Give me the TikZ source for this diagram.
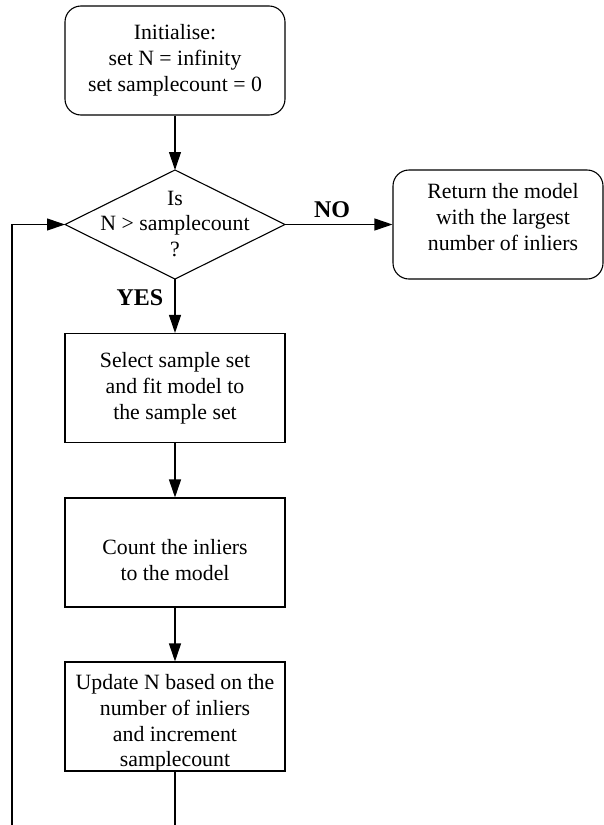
\documentclass[tikz,border=0pt]{standalone}
\usepackage{fontspec}
\setmainfont{Liberation Serif}
\usetikzlibrary{arrows.meta}
\begin{document}
\begin{tikzpicture}[x=1pt,y=-1pt, line width=1.1pt,
  box/.style={draw, minimum width=220pt, minimum height=109pt, inner sep=0pt},
  rbox/.style={box, rounded corners=16pt},
  txt/.style={align=center, font=\fontsize{21.8}{25.8}\selectfont, inner sep=0pt},
  lbl/.style={font=\fontsize{24}{28}\selectfont\bfseries, inner sep=0pt},
  arr/.style={-{Triangle[length=18pt,width=12pt]}},
]
\useasboundingbox (0,0) rectangle (604,825);
% boxes
\node[rbox] (init) at (175,60.5) {};
\node[txt] (initt) at (175,60) {Initialise:\\set N = infinity\\set samplecount = 0};
\coordinate (dT) at (175,170);
\coordinate (dB) at (175,279);
\coordinate (dL) at (65,224.5);
\coordinate (dR) at (285,224.5);
\draw (dL) -- (dT) -- (dR) -- (dB) -- cycle;
\node[txt] (dtext) at (175,224) {Is\\N > samplecount\\?};
\node[rbox, minimum width=210pt, minimum height=109pt] (ret) at (498,224.5) {};
\node[txt] (rett) at (503,217) {Return the model\\with the largest\\number of inliers};
\node[box] (sel) at (175,388) {};
\node[txt] (selt) at (175,388) {Select sample set\\and fit model to\\the sample set};
\node[box] (cnt) at (175,552.5) {};
\node[txt] (cntt) at (175,560) {Count the inliers\\to the model};
\node[box] (upd) at (175,716.5) {};
\node[txt] (updt) at (175,723) {Update N based on the\\number of inliers\\and increment\\samplecount};
% labels
\node[lbl] (no) at (332,210) {NO};
\node[lbl] (yes) at (140,298) {YES};
% connectors
\coordinate (bot1) at (175,825);
\coordinate (bot2) at (12,825);
\draw[arr] (init.south) -- (dT);
\draw[arr] (dR) -- (ret.west);
\draw[arr] (dB) -- (sel.north);
\draw[arr] (sel.south) -- (cnt.north);
\draw[arr] (cnt.south) -- (upd.north);
\draw (upd.south) -- (bot1);
\draw[arr] (bot2) |- (dL);
\end{tikzpicture}
\end{document}
